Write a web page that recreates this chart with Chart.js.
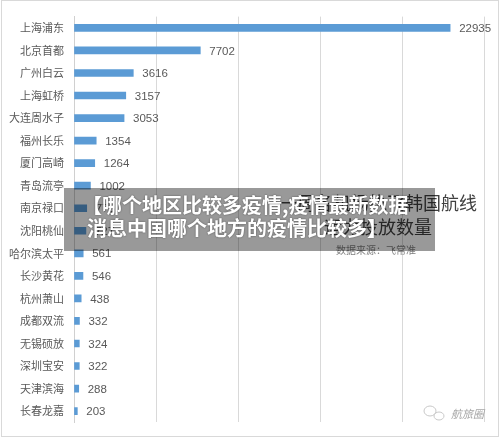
<!DOCTYPE html>
<html>
<head>
<meta charset="utf-8">
<script src="https://cdn.jsdelivr.net/npm/chart.js@4.4.1/dist/chart.umd.min.js"></script>
<style>
  html, body { margin: 0; padding: 0; background: #fff; }
  #wrap { position: relative; width: 500px; height: 439px; }
</style>
</head>
<body>
<div id="wrap"><canvas id="airportChart" width="500" height="439"></canvas></div>
<script>
// --- data ---
const airports = ['上海浦东', '北京首都', '广州白云', '上海虹桥', '大连周水子', '福州长乐', '厦门高崎', '青岛流亭', '南京禄口',
    '沈阳桃仙', '哈尔滨太平', '长沙黄花', '杭州萧山', '成都双流', '无锡硕放', '深圳宝安', '天津滨海', '长春龙嘉'];
const flights = [22935, 7702, 3616, 3157, 3053, 1354, 1264, 1002, 775, 727, 561, 546, 438, 332, 324, 322, 288, 203];
const xTicks = [0, 5000, 10000, 15000, 20000, 25000];

const titleLines = ['一周各机场执飞韩国航线', '运力投放数量'];
const sourceText = '数据来源：飞常准';
const bannerLines = ['【哪个地区比较多疫情,疫情最新数据', '消息中国哪个地方的疫情比较多】'];
const markText = '航旅圈';

const CJK = '"Noto Sans CJK SC", "Noto Sans", sans-serif';

// value labels next to bars
const valueLabels = {
    id: 'valueLabels',
    afterDatasetsDraw(chart) {
        const ctx = chart.ctx;
        const meta = chart.getDatasetMeta(0);
        ctx.save();
        ctx.font = '11.5px "Liberation Sans", Arial, sans-serif';
        ctx.fillStyle = '#595959';
        ctx.textBaseline = 'middle';
        meta.data.forEach((bar, i) => {
            ctx.fillText(String(flights[i]), bar.x + 9, bar.y + 1);
        });
        ctx.restore();
    }
};

// title, banner, watermark, frame
const overlay = {
    id: 'overlay',
    afterDraw(chart) {
        const ctx = chart.ctx;
        ctx.save();
        // chart title (mostly under the banner)
        ctx.fillStyle = '#404040';
        ctx.textAlign = 'center';
        ctx.textBaseline = 'middle';
        ctx.font = '18px ' + CJK;
        ctx.fillText(titleLines[0], 378, 203);
        ctx.fillText(titleLines[1], 378, 227);
        ctx.font = '10px ' + CJK;
        ctx.fillStyle = '#7f7f7f';
        ctx.fillText(sourceText, 376, 250);

        // watermark
        ctx.fillStyle = '#a6a6a6';
        ctx.textAlign = 'right';
        ctx.font = 'italic 11px ' + CJK;
        ctx.fillText(markText, 484, 414);
        ctx.strokeStyle = '#c8c8c8';
        ctx.lineWidth = 1;
        ctx.beginPath();
        ctx.ellipse(430, 411, 6, 5, 0, 0, Math.PI * 2);
        ctx.stroke();
        ctx.beginPath();
        ctx.ellipse(439, 416, 5, 4, 0, 0, Math.PI * 2);
        ctx.stroke();

        // banner
        ctx.fillStyle = 'rgba(0, 0, 0, 0.4)';
        ctx.fillRect(64, 188, 371, 63);
        ctx.textAlign = 'left';
        ctx.font = 'bold 20px ' + CJK;
        ctx.shadowColor = 'rgba(0,0,0,0.5)';
        ctx.shadowBlur = 2;
        ctx.fillStyle = '#ffffff';
        ctx.fillText(bannerLines[0], 82, 205);
        ctx.fillText(bannerLines[1], 87, 228);
        ctx.shadowBlur = 0;

        // outer frame
        ctx.strokeStyle = '#d9d9d9';
        ctx.lineWidth = 1;
        ctx.strokeRect(1.5, 0.5, 497, 436);
        ctx.restore();
    }
};

new Chart(document.getElementById('airportChart').getContext('2d'), {
    type: 'bar',
    data: {
        labels: airports,
        datasets: [{
            data: flights,
            backgroundColor: '#5b9bd5',
            borderWidth: 0,
            barThickness: 7
        }]
    },
    options: {
        indexAxis: 'y',
        responsive: false,
        animation: false,
        devicePixelRatio: 1,
        layout: { padding: { left: 0, right: 16, top: 15, bottom: 16 } },
        plugins: {
            legend: { display: false },
            tooltip: { enabled: false }
        },
        scales: {
            x: {
                min: 0,
                max: 25000,
                afterBuildTicks: (scale) => { scale.ticks = xTicks.map(v => ({ value: v })); },
                ticks: { display: false },
                grid: { color: '#d9d9d9', lineWidth: 1, drawTicks: false },
                border: { display: false },
                afterFit: (scale) => { scale.height = 0; }
            },
            y: {
                ticks: {
                    color: '#595959',
                    font: { family: CJK, size: 11 },
                    padding: 10,
                    autoSkip: false
                },
                grid: { display: false, drawTicks: false },
                border: { display: true, color: '#d0d0d0', width: 1 },
                afterFit: (scale) => { scale.width = 74; }
            }
        }
    },
    plugins: [valueLabels, overlay]
});
</script>
</body>
</html>
